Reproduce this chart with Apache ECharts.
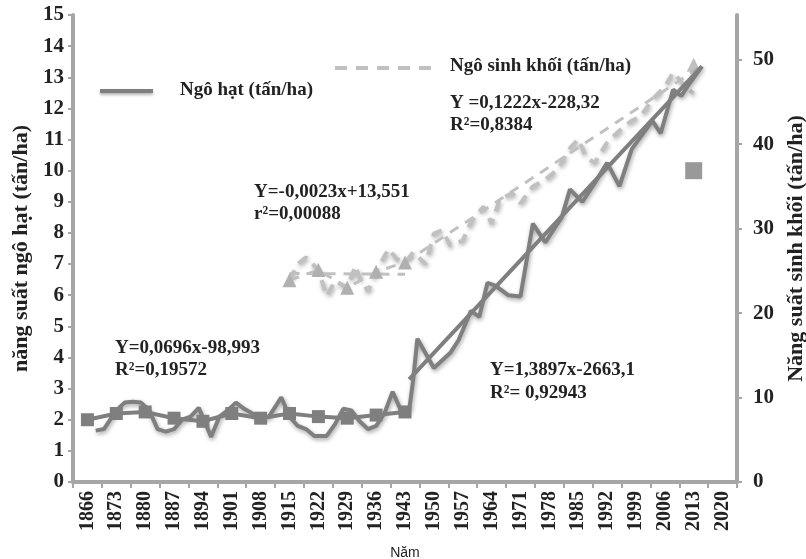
<!DOCTYPE html>
<html>
<head>
<meta charset="utf-8">
<script src="https://cdn.jsdelivr.net/npm/echarts@6/dist/echarts.min.js"></script>
<style>
html,body{margin:0;padding:0;background:#fff;}
#chart{width:806px;height:559px;}
</style>
</head>
<body>
<div id="chart"></div>
<script>
// ---- data ----
const yearLabels = ['1866','1873','1880','1887','1894','1901','1908','1915','1922','1929','1936','1943','1950','1957','1964','1971','1978','1985','1992','1999','2006','2013','2020'];

const grainYears  = [1868,1870,1873,1875,1877,1879,1881,1883,1885,1887,1889,1891,1893,1896,1898,1900,1902,1904,1906,1908,1910,1913,1915,1917,1919,1921,1924,1926,1928,1930,1932,1934,1936,1938,1940,1942,1944,1945,1946,1950,1954,1956,1959,1961,1963,1965,1968,1971,1974,1977,1981,1983,1986,1989,1992,1995,1998,2003,2005,2008,2010,2012,2015];
const grainValues = [1.65,1.7,2.3,2.55,2.58,2.55,2.3,1.7,1.62,1.7,2.0,2.1,2.38,1.45,2.1,2.3,2.55,2.35,2.2,2.05,2.1,2.72,2.1,1.8,1.7,1.48,1.48,1.85,2.35,2.3,1.95,1.7,1.8,2.2,2.9,2.3,2.3,3.3,4.6,3.66,4.15,4.56,5.5,5.3,6.4,6.3,6.0,5.96,8.3,7.7,8.5,9.4,9.0,9.6,10.25,9.5,10.7,11.6,11.2,12.6,12.4,12.8,13.35];

// early grain trend (squares)
const squareYears  = [1866,1873,1880,1887,1894,1901,1908,1915,1922,1929,1936,1943];
const squareValues = [2.0,2.2,2.25,2.05,1.95,2.2,2.05,2.2,2.1,2.05,2.15,2.25];

// late grain trend
const grainTrendYears  = [1944,2015];
const grainTrendValues = [3.3,13.35];

// isolated square
const extraSquareYears  = [2013];
const extraSquareValues = [10];

// Ngô sinh khối (tấn/ha) – right axis
const bioYears  = [1915,1917,1919,1922,1924,1926,1929,1931,1932,1934,1936,1939,1941,1943,1945,1948,1950,1952,1954,1957,1959,1962,1964,1966,1969,1971,1974,1977,1980,1983,1985,1987,1989,1992,1995,1998,2000,2003,2006,2008,2011,2013];
const bioValues = [23.9,25.8,26.6,25.1,22.0,23.8,23.0,25.6,24.2,22.6,24.9,27.6,26.4,26.0,27.2,25.8,29.4,29.8,28.0,28.6,30.8,32.6,30.6,33.5,34.2,33.0,35.0,35.8,37.0,39.5,40.6,38.4,37.8,40.2,41.6,42.8,43.2,45.3,46.8,48.5,46.8,46.0];

// biomass markers (triangles)
const triYears  = [1915,1922,1929,1936,1943];
const triValues = [23.9,25.1,23.0,24.9,26.0];
const extraTriYears  = [2013];
const extraTriValues = [49.4];

// biomass trends
const bioTrend1Years  = [1915,1943];
const bioTrend1Values = [24.7,24.6];
const bioTrend2Years  = [1943,2015];
const bioTrend2Values = [26.0,49.3];

// ---- helpers ----
const zip = (a,b) => a.map((v,i)=>[v,b[i]]);
const dark = '#7f7f7f';
const light = '#c0c0c0';
const axisCol = '#a6a6a6';
const serif = '"Liberation Serif", "Times New Roman", serif';
const shadow = {shadowColor:'rgba(0,0,0,0.35)', shadowBlur:4, shadowOffsetX:1, shadowOffsetY:2};

const chart = echarts.init(document.getElementById('chart'));
const option = {
  animation:false,
  backgroundColor:'#fff',
  grid:{left:73, right:69, top:15, bottom:77, containLabel:false, outerBoundsMode:'none'},
  xAxis:[
    {type:'category', data:yearLabels, boundaryGap:true, position:'bottom',
     axisLine:{lineStyle:{color:axisCol, width:4}},
     axisTick:{show:true, length:6, inside:false, lineStyle:{color:axisCol, width:2}},
     axisLabel:{rotate:90, color:'#222', fontFamily:serif, fontWeight:'bold', fontSize:20, margin:9},
     name:'Năm', nameLocation:'middle', nameGap:64,
     nameTextStyle:{fontFamily:'"Liberation Sans", Arial, sans-serif', fontSize:14, color:'#222'}},
    {type:'value', min:1862.5, max:2023.5, show:false}
  ],
  yAxis:[
    {type:'value', min:0, max:15, interval:1, position:'left',
     axisLine:{show:true, lineStyle:{color:axisCol, width:4}},
     axisTick:{show:true, length:5, lineStyle:{color:axisCol, width:2}},
     splitLine:{show:false},
     axisLabel:{color:'#222', fontFamily:serif, fontWeight:'bold', fontSize:21, margin:9},
     name:'năng suất ngô hạt (tấn/ha)', nameLocation:'middle', nameGap:36, nameRotate:90,
     nameTextStyle:{fontFamily:serif, fontWeight:'bold', fontSize:22, color:'#222'}},
    {type:'value', min:0, max:55.3, interval:10, position:'right',
     axisLine:{show:true, lineStyle:{color:axisCol, width:4}},
     axisTick:{show:true, length:5, lineStyle:{color:axisCol, width:2}},
     splitLine:{show:false},
     axisLabel:{color:'#222', fontFamily:serif, fontWeight:'bold', fontSize:21, margin:16, showMaxLabel:false},
     name:'Năng suất sinh khối (tấn/ha)', nameLocation:'middle', nameGap:44, nameRotate:90,
     nameTextStyle:{fontFamily:serif, fontWeight:'bold', fontSize:22, color:'#222'}}
  ],
  series:[
    {name:'Ngô sinh khối (tấn/ha)', type:'line', xAxisIndex:1, yAxisIndex:1, data:zip(bioYears,bioValues),
     symbol:'none', lineStyle:Object.assign({color:light, width:4, type:[11,8]}, shadow), z:2},
    {name:'bio trend 1', type:'line', xAxisIndex:1, yAxisIndex:1, data:zip(bioTrend1Years,bioTrend1Values),
     symbol:'none', lineStyle:{color:light, width:3, type:[10,8]}, z:2},
    {name:'bio trend 2', type:'line', xAxisIndex:1, yAxisIndex:1, data:zip(bioTrend2Years,bioTrend2Values),
     symbol:'none', lineStyle:{color:light, width:3, type:[10,8]}, z:2},
    {name:'bio markers', type:'line', xAxisIndex:1, yAxisIndex:1, data:zip(triYears,triValues),
     symbol:'triangle', symbolSize:14, itemStyle:{color:'#b0b0b0'}, lineStyle:{color:light, width:3, type:[10,8]}, z:3},
    {name:'bio marker 2013', type:'scatter', xAxisIndex:1, yAxisIndex:1, data:zip(extraTriYears,extraTriValues),
     symbol:'triangle', symbolSize:14, itemStyle:{color:'#b0b0b0'}, z:3},
    {name:'Ngô hạt (tấn/ha)', type:'line', xAxisIndex:1, yAxisIndex:0, data:zip(grainYears,grainValues),
     symbol:'none', lineStyle:Object.assign({color:dark, width:4}, shadow), z:4},
    {name:'grain trend early', type:'line', xAxisIndex:1, yAxisIndex:0, data:zip(squareYears,squareValues),
     symbol:'rect', symbolSize:13, itemStyle:{color:dark}, lineStyle:{color:dark, width:4}, z:5},
    {name:'grain trend late', type:'line', xAxisIndex:1, yAxisIndex:0, data:zip(grainTrendYears,grainTrendValues),
     symbol:'none', lineStyle:{color:dark, width:4}, z:5},
    {name:'square 2013', type:'scatter', xAxisIndex:1, yAxisIndex:0, data:zip(extraSquareYears,extraSquareValues),
     symbol:'rect', symbolSize:17, itemStyle:{color:dark}, z:5}
  ],
  graphic:[
    {type:'line', shape:{x1:100,y1:91,x2:153,y2:91}, style:{stroke:dark, lineWidth:4, shadowColor:'rgba(0,0,0,0.3)', shadowBlur:3, shadowOffsetY:2}},
    {type:'text', left:180, top:81, style:{text:'Ngô hạt (tấn/ha)', font:'bold 19px '+serif, fill:'#222'}},
    {type:'line', shape:{x1:335,y1:68,x2:440,y2:68}, style:{stroke:light, lineWidth:4, lineDash:[12,9]}},
    {type:'text', left:450, top:57, style:{text:'Ngô sinh khối (tấn/ha)', font:'bold 19px '+serif, fill:'#222'}},
    {type:'text', left:115, top:337, style:{text:'Y=0,0696x-98,993\nR²=0,19572', font:'bold 19px '+serif, fill:'#222', lineHeight:22}},
    {type:'text', left:254, top:181, style:{text:'Y=-0,0023x+13,551\nr²=0,00088', font:'bold 19px '+serif, fill:'#222', lineHeight:22}},
    {type:'text', left:450, top:92, style:{text:'Y =0,1222x-228,32\nR²=0,8384', font:'bold 19px '+serif, fill:'#222', lineHeight:22}},
    {type:'text', left:490, top:359, style:{text:'Y=1,3897x-2663,1\nR²= 0,92943', font:'bold 19px '+serif, fill:'#222', lineHeight:23}}
  ]
};
chart.setOption(option);
</script>
</body>
</html>
